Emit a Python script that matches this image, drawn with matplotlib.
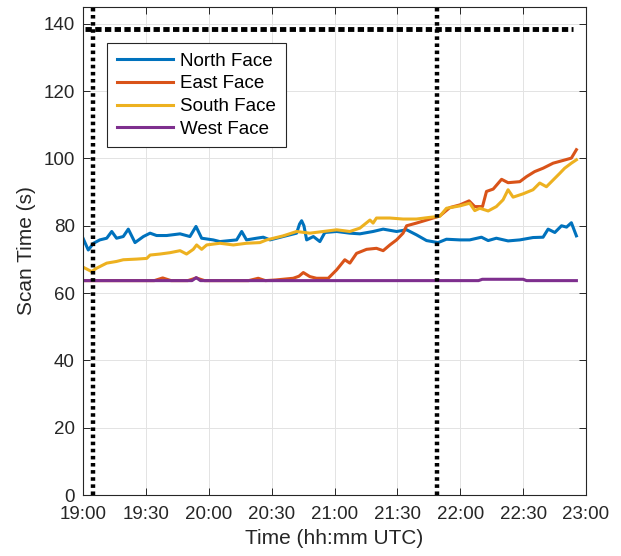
import numpy as np
import matplotlib
matplotlib.use('Agg')
import matplotlib.pyplot as plt

plt.rcParams['font.family'] = ['Liberation Sans', 'DejaVu Sans']

# minutes after 19:00 UTC, scan time in s
north_t = [0, 2.5, 5, 8, 11.3, 13.7, 16, 19.2, 21.6, 24.8, 28.8, 32, 35.1, 39.9, 46.3, 51, 53.9, 56.6,
           62.1, 65.3, 70.1, 73.3, 75.7, 78, 82.8, 86, 89.2, 95.5, 101.9, 103.3, 104.3, 105.4, 106.7, 109.9,
           113, 115.4, 121, 127.3, 132.1, 138.4, 143.2, 149.6, 154.4, 159.1, 163.9, 169.4, 173.4, 179.8,
           184.5, 190.1, 193.3, 197.2, 202.8, 208.4, 214.7, 219.5, 221.9, 225.1, 228.3, 230.7, 233, 235.4]
north_v = [76.3, 72.8, 74.8, 75.8, 76.3, 78.3, 76.3, 76.8, 79, 75, 76.8, 77.8, 77.1, 77.1, 77.6, 76.8, 79.8, 76.3,
           75.8, 75.3, 75.6, 75.8, 78.3, 75.8, 76.3, 76.6, 75.8, 76.8, 77.8, 80.5, 81.5, 80.0, 75.8, 76.8,
           75.3, 78, 78.3, 77.8, 77.6, 78.3, 79, 78.3, 78.8, 77.3, 75.6, 75, 76, 75.8,
           75.8, 76.6, 75.6, 76.3, 75.5, 75.8, 76.5, 76.6, 79, 78, 80, 79.6, 80.9, 77]

east_t = [0, 34, 38, 42, 50, 54, 58, 79, 83.6, 87, 92, 100.3, 103, 105.1, 108.2, 111.4, 117, 121, 124.9,
          127.3, 130.5, 135.3, 140, 143.2, 146.4, 149.6, 152.7, 154.4, 159.1, 165.5, 170.2, 175, 179.8,
          184.2, 186.9, 190.6, 192.5, 195.7, 199.7, 202.8, 208.4, 211.6, 215.5, 219.5, 224.3, 229, 233, 235.4]
east_v = [63.7, 63.7, 64.5, 63.7, 63.7, 64.5, 63.7, 63.7, 64.4, 63.7, 63.9, 64.4, 65, 66.1, 64.9, 64.4, 64.4, 66.9, 69.9,
          68.9, 71.8, 73, 73.3, 72.6, 74.3, 75.8, 77.8, 80, 80.8, 82.0, 82.9, 85.4, 86.2,
          87.4, 85.7, 85.7, 90.2, 90.9, 93.8, 92.8, 93.1, 94.6, 96.1, 97.1, 98.6, 99.4, 100.1, 102.6]

south_t = [0, 4.1, 6.5, 11.3, 16, 19.2, 25.6, 30.4, 32, 36.7, 41.5, 46.3, 49.4, 52.6, 54.2, 56.6, 59, 65.3,
           71.7, 78, 84.4, 87.6, 95.5, 101.9, 108.2, 114.6, 121, 127.3, 132.1, 136.9, 138.4, 140, 146.4,
           152.7, 159.1, 165.5, 170.2, 173.4, 179.8, 184.5, 186.9, 189.3, 193.3, 197.2, 200.4, 202.8, 205.2,
           210, 214.7, 217.9, 221.1, 224.3, 227.5, 229.8, 233, 235.4]
south_v = [67.7, 66.4, 67.4, 68.9, 69.4, 69.9, 70.1, 70.3, 71.3, 71.6, 72, 72.6, 71.6, 73, 74.3, 73, 74.3, 74.8,
           74.3, 74.8, 75, 75.8, 77, 78.3, 77.8, 78.3, 78.8, 78.3, 79.3, 81.7, 80.8, 82.3, 82.3,
           82, 82.0, 82.5, 82.8, 85.2, 85.9, 86.7, 84.5, 85.2, 84.4, 85.7, 87.7, 90.7, 88.5,
           89.5, 90.7, 92.7, 91.6, 93.6, 95.6, 97.1, 98.6, 99.6]

west_t = [0, 52, 54, 56, 188.7, 190.5, 210, 211.6, 235.4]
west_v = [63.7, 63.7, 64.6, 63.7, 63.7, 64.1, 64.1, 63.7, 63.7]

limit_t = [0.8, 234]
limit_v = [138.5, 138.5]
event_t = [4.8, 168.8]

xtick_min = [0, 30, 60, 90, 120, 150, 180, 210, 240]
xtick_lab = ['19:00', '19:30', '20:00', '20:30', '21:00', '21:30', '22:00', '22:30', '23:00']
ytick_val = [0, 20, 40, 60, 80, 100, 120, 140]

fig = plt.figure(figsize=(6.21, 5.56), dpi=100)
ax = fig.add_axes([0.1337, 0.1097, 0.8100, 0.8777])

ax.plot(north_t, north_v, color='#0072BD', lw=2.2, label='North Face')
ax.plot(east_t, east_v, color='#D95319', lw=2.2, label='East Face')
ax.plot(south_t, south_v, color='#EDB120', lw=2.2, label='South Face')
ax.plot(west_t, west_v, color='#7E2F8E', lw=2.2, label='West Face')

l, = ax.plot(limit_t, limit_v, color='k', lw=3.5, zorder=5)
l.set_dashes((1.3, 0.7))
l.set_dash_capstyle('butt')
for t in event_t:
    v = ax.axvline(t, color='k', lw=3.2, zorder=5)
    v.set_dashes((0.8, 0.8))
    v.set_dash_capstyle('butt')

ax.set_xlim(0, 240)
ax.set_ylim(0, 145)
ax.set_xticks(xtick_min)
ax.set_xticklabels(xtick_lab)
ax.set_yticks(ytick_val)
ax.grid(True, color='#e3e3e3', lw=0.7)
ax.set_axisbelow(True)
ax.tick_params(direction='in', top=True, right=True, length=5, width=0.7,
               labelsize=13.5, colors='#262626')
ax.tick_params(axis='x', pad=8)
ax.tick_params(axis='y', pad=6)
for s in ax.spines.values():
    s.set_color('#262626')
    s.set_linewidth(0.8)

ax.set_xlabel('Time (hh:mm UTC)', fontsize=15, color='#262626', labelpad=4)
ax.set_ylabel('Scan Time (s)', fontsize=15, color='#262626', labelpad=5)

leg = ax.legend(loc='upper left', bbox_to_anchor=(0.048, 0.926), borderaxespad=0,
                fancybox=False, framealpha=1, edgecolor='#262626', fontsize=13.5,
                handlelength=3.0, handletextpad=0.4, labelspacing=0.3, borderpad=0.5)
leg.get_frame().set_linewidth(0.8)

fig.savefig('out.png', dpi=100)
